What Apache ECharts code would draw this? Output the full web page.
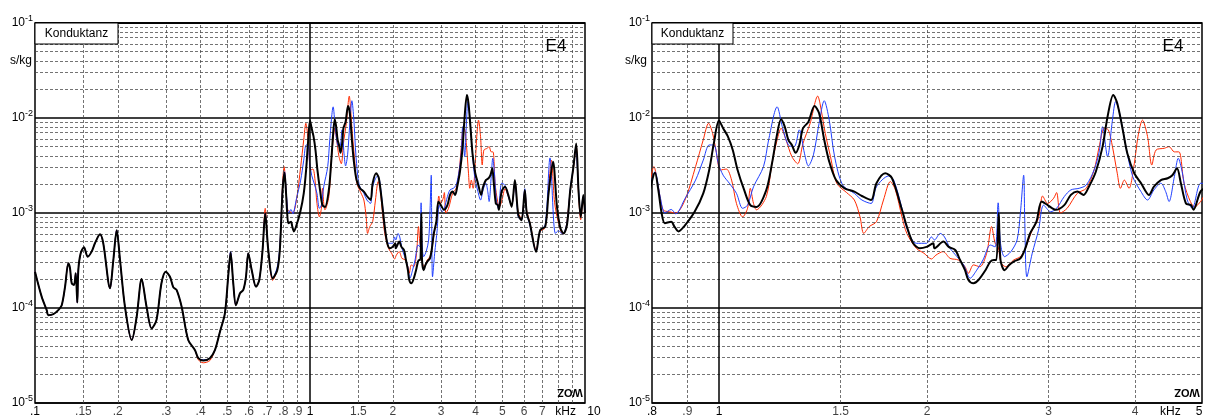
<!DOCTYPE html>
<html><head><meta charset="utf-8">
<script src="https://cdn.jsdelivr.net/npm/echarts@6/dist/echarts.min.js"></script>
<style>html,body{margin:0;padding:0;background:#fff}#c{width:1205px;height:416px}</style>
</head><body><div id="c"></div>
<script>
// ---- data (frequency in kHz, conductance in s/kg) ----
const lowFreq = [0.1,0.1058,0.1103,0.1118,0.1166,0.1215,0.1251,0.1286,0.1322,0.134,0.136,0.1386,0.1406,0.1425,0.1437,0.1466,0.1507,0.1554,0.1607,0.1652,0.1723,0.1771,0.1874,0.1927,0.1982,0.2038,0.2124,0.2248,0.2343,0.2442,0.2545,0.2655,0.2766,0.2883,0.2988,0.3096,0.3185,0.3272,0.3414,0.3607,0.3818,0.3926,0.4093,0.4325,0.451,0.4703,0.4904,0.504,0.5144,0.526,0.5377,0.5566,0.572,0.585,0.5963,0.614,0.6364,0.654,0.6723,0.6873,0.7051,0.7316,0.7602,0.7768];
const lowBlack = [2.41e-4,1.31e-4,9.5e-5,8.4e-5,8.6e-5,9.5e-5,1.07e-4,1.67e-4,2.96e-4,2.64e-4,1.82e-4,1.75e-4,2.32e-4,1.14e-4,2.5e-4,3.77e-4,4.35e-4,3.47e-4,3.92e-4,4.8e-4,5.96e-4,4.8e-4,1.61e-4,3.2e-4,6.6e-4,3.2e-4,1.03e-4,4.6e-5,8.1e-5,2.02e-4,1.03e-4,6.1e-5,7.5e-5,1.82e-4,2.41e-4,2.13e-4,1.65e-4,1.55e-4,1.03e-4,4.6e-5,3.6e-5,2.96e-5,2.8e-5,2.96e-5,3.6e-5,5.6e-5,8.8e-5,2.13e-4,3.82e-4,1.82e-4,1.07e-4,1.43e-4,1.55e-4,2.13e-4,3.77e-4,2.5e-4,1.67e-4,1.97e-4,4.08e-4,9.9e-4,4.08e-4,2.06e-4,2.5e-4,4.08e-4];
const lowRed = [2.41e-4,1.31e-4,9.5e-5,8.4e-5,8.6e-5,9.5e-5,1.07e-4,1.67e-4,2.96e-4,2.64e-4,1.82e-4,1.75e-4,2.32e-4,1.14e-4,2.5e-4,3.77e-4,4.35e-4,3.47e-4,3.92e-4,4.8e-4,5.96e-4,4.8e-4,1.61e-4,3.2e-4,6.6e-4,3.2e-4,1.03e-4,4.6e-5,8.1e-5,2.02e-4,1.03e-4,6.1e-5,7.5e-5,1.82e-4,2.41e-4,2.13e-4,1.65e-4,1.55e-4,1.03e-4,4.6e-5,3.6e-5,2.85e-5,2.65e-5,2.8e-5,3.6e-5,5.6e-5,8.8e-5,2.13e-4,3.82e-4,1.82e-4,1.07e-4,1.43e-4,1.55e-4,2.13e-4,3.77e-4,2.5e-4,1.67e-4,1.97e-4,4.08e-4,1.12e-3,4.08e-4,1.95e-4,2.5e-4,4.3e-4];
const lowBlue = [2.41e-4,1.31e-4,9.5e-5,8.4e-5,8.6e-5,9.5e-5,1.07e-4,1.67e-4,2.96e-4,2.64e-4,1.82e-4,1.75e-4,2.32e-4,1.14e-4,2.5e-4,3.77e-4,4.35e-4,3.47e-4,3.92e-4,4.8e-4,5.96e-4,4.8e-4,1.61e-4,3.2e-4,6.6e-4,3.2e-4,1.03e-4,4.6e-5,8.1e-5,2.02e-4,1.03e-4,6.1e-5,7.5e-5,1.82e-4,2.41e-4,2.13e-4,1.65e-4,1.55e-4,1.03e-4,4.6e-5,3.6e-5,2.96e-5,2.85e-5,2.96e-5,3.6e-5,5.6e-5,8.8e-5,2.13e-4,3.95e-4,1.82e-4,1.07e-4,1.43e-4,1.55e-4,2.13e-4,3.77e-4,2.5e-4,1.67e-4,1.97e-4,4.08e-4,9.9e-4,4.08e-4,2.06e-4,2.7e-4,4.5e-4];

const midBlack = [[0.795,1.75e-3],[0.808,2.65e-3],[0.817,1.75e-3],[0.826,1.0e-3],[0.835,7.8e-4],[0.853,8.1e-4],[0.862,7.2e-4],[0.874,6.4e-4],[0.89,7.2e-4],[0.922,1.03e-3],[0.949,1.61e-3],[0.968,2.84e-3],[0.983,5.4e-3],[1.0,9.4e-3],[1.014,7.8e-3],[1.03,6.4e-3],[1.047,4.6e-3],[1.064,2.84e-3],[1.0875,1.75e-3],[1.11,1.21e-3],[1.134,1.16e-3],[1.171,1.75e-3],[1.193,3.3e-3],[1.212,6.4e-3],[1.23,9.7e-3],[1.245,8.1e-3],[1.26,5.9e-3],[1.275,5.2e-3],[1.291,4.3e-3],[1.307,5.2e-3],[1.323,7.8e-3],[1.347,9.1e-3],[1.375,1.34e-2],[1.396,1.12e-2],[1.42,5.9e-3],[1.444,3.47e-3],[1.477,2.22e-3],[1.52,1.82e-3],[1.57,1.68e-3],[1.61,1.51e-3],[1.66,1.37e-3],[1.69,2.06e-3],[1.74,2.62e-3],[1.78,2.32e-3],[1.84,1.08e-3],[1.87,7.2e-4],[1.91,4.8e-4],[1.953,4.25e-4],[1.997,4.4e-4],[2.042,4.8e-4],[2.05,4.25e-4],[2.113,5.0e-4],[2.15,4.4e-4],[2.197,4.08e-4],[2.233,3.2e-4],[2.27,2.5e-4],[2.296,1.97e-4],[2.335,1.82e-4],[2.374,1.97e-4],[2.43,2.5e-4],[2.47,3.08e-4],[2.5,3.2e-4],[2.52,3.2e-4],[2.54,1.0e-3],[2.555,3.2e-4],[2.59,2.5e-4],[2.63,2.84e-4],[2.67,3.08e-4],[2.73,3.33e-4],[2.77,4.08e-4],[2.82,6.1e-4],[2.88,8.1e-4],[2.93,1.32e-3],[2.99,1.21e-3],[3.07,1.08e-3],[3.16,1.21e-3],[3.23,1.55e-3],[3.3,1.68e-3],[3.37,1.55e-3],[3.43,1.89e-3],[3.51,2.72e-3],[3.59,5.0e-3],[3.65,1.03e-2],[3.72,1.75e-2],[3.77,1.43e-2],[3.84,7.5e-3],[3.9,4.2e-3],[3.99,2.62e-3],[4.08,2.06e-3],[4.19,1.55e-3],[4.26,1.89e-3],[4.36,2.22e-3],[4.46,2.32e-3],[4.53,2.5e-3],[4.6,2.95e-3],[4.66,2.06e-3],[4.74,1.26e-3],[4.82,1.21e-3],[4.86,1.08e-3],[4.98,1.7e-3]];
const highBlack = [[5.12,1.89e-3],[5.26,1.55e-3],[5.41,1.16e-3],[5.56,2.22e-3],[5.72,9.5e-4],[5.88,8.4e-4],[6.04,1.75e-3],[6.14,1.0e-3],[6.3,7.8e-4],[6.64,3.92e-4],[6.87,6.6e-4],[7.17,7.2e-4],[7.37,1.61e-3],[7.65,3.47e-3],[7.91,1.16e-3],[8.14,6.9e-4],[8.36,6.1e-4],[8.6,7.5e-4],[8.84,1.75e-3],[9.08,3.08e-3],[9.29,5.4e-3],[9.47,1.75e-3],[9.65,9.1e-4],[9.86,1.55e-3],[10,1.0e-3]];

const midRed = [[0.795,2.06e-3],[0.805,3.08e-3],[0.817,1.89e-3],[0.83,1.08e-3],[0.848,1.03e-3],[0.866,1.0e-3],[0.893,1.37e-3],[0.925,3.08e-3],[0.949,5.9e-3],[0.966,8.8e-3],[0.979,6.9e-3],[0.99,4.6e-3],[1.005,2.84e-3],[1.025,2.9e-3],[1.043,2.22e-3],[1.06,1.26e-3],[1.082,9.1e-4],[1.1,1.12e-3],[1.11,1.82e-3],[1.122,1.26e-3],[1.133,1.08e-3],[1.171,1.49e-3],[1.193,3.3e-3],[1.214,5.9e-3],[1.23,7.8e-3],[1.25,5.9e-3],[1.275,3.92e-3],[1.3,3.3e-3],[1.323,5.4e-3],[1.355,8.8e-3],[1.39,1.7e-2],[1.4,1.43e-2],[1.425,6.9e-3],[1.45,3.92e-3],[1.48,2.06e-3],[1.53,1.64e-3],[1.57,1.37e-3],[1.6,9.1e-4],[1.62,6.1e-4],[1.65,7.2e-4],[1.69,8.1e-4],[1.73,1.37e-3],[1.77,2.14e-3],[1.8,1.75e-3],[1.84,9.1e-4],[1.87,6.1e-4],[1.93,4.25e-4],[1.98,3.77e-4],[2.03,3.28e-4],[2.06,3.6e-4],[2.11,3.92e-4],[2.16,3.33e-4],[2.22,3.2e-4],[2.27,2.72e-4],[2.296,2.32e-4],[2.335,2.84e-4],[2.385,2.72e-4],[2.44,3.77e-4],[2.48,7.2e-4],[2.51,4.8e-4],[2.535,4.4e-4],[2.56,3.0e-4],[2.6,2.72e-4],[2.67,3.2e-4],[2.73,3.47e-4],[2.77,4.08e-4],[2.84,6.6e-4],[2.9,8.8e-4],[2.94,1.51e-3],[2.99,1.26e-3],[3.05,1.43e-3],[3.08,1.64e-3],[3.12,1.0e-3],[3.19,1.12e-3],[3.3,1.61e-3],[3.4,1.82e-3],[3.49,2.84e-3],[3.55,5.0e-3],[3.61,7.8e-3],[3.66,7.5e-3],[3.71,5.0e-3],[3.77,2.62e-3],[3.81,1.82e-3],[3.86,2.22e-3],[3.92,1.82e-3],[3.99,3.3e-3],[4.04,6.4e-3],[4.1,9.5e-3],[4.17,6.4e-3],[4.23,3.2e-3],[4.29,4.6e-3],[4.41,4.8e-3],[4.48,5.0e-3],[4.56,4.4e-3],[4.63,4.4e-3],[4.71,2.06e-3],[4.81,1.32e-3],[4.88,1.16e-3],[4.98,1.33e-3]];
const highRed = [[5.12,1.8e-3],[5.26,1.5e-3],[5.41,1.2e-3],[5.56,2.1e-3],[5.72,1.0e-3],[5.88,8.8e-4],[6.04,1.7e-3],[6.14,1.05e-3],[6.3,8.0e-4],[6.64,4.1e-4],[6.87,6.4e-4],[7.17,7.0e-4],[7.37,1.8e-3],[7.55,3.6e-3],[7.75,1.3e-3],[8.0,8.0e-4],[8.3,6.0e-4],[8.5,6.5e-4],[8.84,1.7e-3],[9.08,3.0e-3],[9.29,5.0e-3],[9.47,1.6e-3],[9.65,8.5e-4],[9.86,1.4e-3],[10,1.0e-3]];

const midBlue = [[0.795,1.89e-3],[0.808,2.72e-3],[0.822,1.49e-3],[0.835,1.0e-3],[0.853,1.09e-3],[0.866,9.8e-4],[0.893,1.42e-3],[0.925,2.22e-3],[0.949,3.6e-3],[0.968,5.2e-3],[0.983,5.2e-3],[0.998,3.3e-3],[1.014,2.5e-3],[1.035,2.06e-3],[1.06,1.61e-3],[1.082,1.12e-3],[1.1,1.21e-3],[1.122,1.89e-3],[1.16,3.08e-3],[1.18,5.9e-3],[1.214,1.31e-2],[1.235,8.1e-3],[1.26,5.2e-3],[1.285,5.0e-3],[1.307,7.5e-3],[1.33,4.2e-3],[1.347,3.13e-3],[1.37,4.1e-3],[1.396,8.8e-3],[1.42,1.52e-2],[1.444,9.5e-3],[1.47,3.92e-3],[1.51,1.97e-3],[1.57,1.61e-3],[1.61,1.37e-3],[1.66,1.26e-3],[1.69,1.89e-3],[1.76,2.45e-3],[1.79,2.22e-3],[1.84,1.12e-3],[1.87,6.9e-4],[1.93,4.8e-4],[1.997,4.8e-4],[2.03,5.6e-4],[2.05,5.2e-4],[2.09,6.1e-4],[2.12,5.6e-4],[2.16,4.25e-4],[2.21,3.47e-4],[2.26,2.84e-4],[2.31,2.06e-4],[2.36,2.5e-4],[2.41,3.2e-4],[2.47,4.6e-4],[2.51,4.4e-4],[2.535,1.28e-3],[2.555,4.8e-4],[2.59,3.47e-4],[2.645,3.92e-4],[2.7,5.2e-4],[2.73,1.0e-3],[2.76,2.5e-3],[2.77,8.4e-4],[2.79,2.13e-4],[2.84,3.77e-4],[2.9,6.6e-4],[2.95,1.21e-3],[3.02,1.03e-3],[3.08,1.12e-3],[3.16,1.49e-3],[3.23,1.75e-3],[3.32,1.82e-3],[3.4,1.97e-3],[3.49,2.84e-3],[3.55,4.4e-3],[3.59,8.1e-3],[3.65,3.92e-3],[3.71,9.5e-3],[3.75,1.49e-2],[3.8,1.12e-2],[3.88,5.0e-3],[3.97,2.41e-3],[4.08,1.68e-3],[4.17,1.37e-3],[4.26,1.75e-3],[4.36,2.06e-3],[4.43,1.68e-3],[4.48,1.32e-3],[4.56,2.41e-3],[4.62,3.77e-3],[4.68,2.72e-3],[4.76,1.37e-3],[4.84,1.12e-3],[4.98,2.06e-3]];
const highBlue = [[5.12,1.95e-3],[5.26,1.5e-3],[5.41,1.2e-3],[5.56,2.1e-3],[5.72,9.0e-4],[5.88,8.5e-4],[6.04,1.8e-3],[6.14,1.0e-3],[6.3,7.5e-4],[6.64,4.0e-4],[6.87,6.5e-4],[7.17,7.5e-4],[7.46,3.8e-3],[7.8,6.1e-4],[8.0,6.5e-4],[8.3,6.0e-4],[8.6,8.0e-4],[8.84,1.8e-3],[9.08,3.1e-3],[9.25,4.8e-3],[9.47,1.8e-3],[9.65,9.5e-4],[9.86,1.5e-3],[10,1.05e-3]];

// ---- axis ticks ----
const leftTickValues = [0.1,0.15,0.2,0.3,0.4,0.5,0.6,0.7,0.8,0.9,1,1.5,2,3,4,5,6,7,8,9,10];
const leftTickLabels = ['.1','.15','.2','.3','.4','.5','.6','.7','.8','.9','1','1.5','2','3','4','5','6','7','','','10'];
const leftUnitAt = 8.5;
const rightTickValues = [0.8,0.9,1,1.5,2,3,4,5];
const rightTickLabels = ['.8','.9','1','1.5','2','3','4','5'];
const rightUnitAt = 4.5;
const yDecadeExponents = [-5,-4,-3,-2];
const yMinorMantissas = [2,3,4,5,6,7,8,9];

const FONT = 'Liberation Sans, Arial, Helvetica, sans-serif';
const pair = (f, v) => f.map((x, i) => [x, v[i]]);
const black = pair(lowFreq, lowBlack).concat(midBlack, highBlack);
const red = pair(lowFreq, lowRed).concat(midRed, highRed);
const blue = pair(lowFreq, lowBlue).concat(midBlue, highBlue);

const minorStyle = {color:'#444', width:1, type:[3,2], opacity:0.75};
const majorStyle = {color:'#000', width:1.5, type:'solid'};
const hiddenStyle = {color:'rgba(0,0,0,0)', width:0};

function vMarks(ticks, labels, min, max, unitAt, shiftLast) {
  const d = [];
  ticks.forEach((v, i) => {
    const inside = v > min * 1.0001 && v < max * 0.9999;
    const lab = labels[i];
    const item = {xAxis: v, lineStyle: v === 1 ? majorStyle : (inside ? minorStyle : hiddenStyle),
      label: {show: !!lab, formatter: lab || ' '}};
    if (i === ticks.length - 1) item.label.offset = [shiftLast, 0];
    d.push(item);
  });
  d.push({xAxis: unitAt, lineStyle: hiddenStyle, label: {show: true, formatter: 'kHz'}});
  return d;
}
function hMarks() {
  const d = [];
  // horizontal minor lines, placed on a hidden value axis holding log10 of the conductance
  yDecadeExponents.forEach(e => yMinorMantissas.forEach(m => d.push({yAxis: e + Math.log10(m)})));
  return d;
}

const yLogAxis = (gi) => ({
  type:'log', logBase:10, min:1e-5, max:1e-1, gridIndex: gi,
  axisLine:{show:false}, axisTick:{show:false},
  splitLine:{show:true, lineStyle:{color:'#000', width:1.5}},
  axisLabel:{show:true, showMinLabel:true, showMaxLabel:true, margin:2,
    formatter: v => '{b|10}{s|' + Math.round(Math.log10(v)) + '}',
    rich:{b:{fontSize:12, fontFamily:FONT, color:'#000'},
          s:{fontSize:9, fontFamily:FONT, color:'#000', padding:[0,0,9,0]}}}
});
const yExpAxis = (gi) => ({
  type:'value', min:-5, max:-1, gridIndex: gi, show:false, splitLine:{show:false}
});
const xAxisCommon = (gi, min, max) => ({
  type:'log', logBase:10, min, max, gridIndex: gi,
  axisLine:{show:false}, axisTick:{show:false}, axisLabel:{show:false}, splitLine:{show:false}
});

const vSeries = (gi, ticks, labels, min, max, unitAt, shiftLast) => ({
  type:'line', xAxisIndex: gi, yAxisIndex: gi, data: [], z: 1, silent: true,
  markLine: {silent: true, symbol: ['none','none'], animation: false,
    label: {position:'start', distance: 3, color:'#000', fontSize:12, fontFamily: FONT},
    data: vMarks(ticks, labels, min, max, unitAt, shiftLast)}
});
const hSeries = (gi) => ({
  type:'line', xAxisIndex: gi, yAxisIndex: gi + 2, data: [], z: 1, silent: true,
  markLine: {silent: true, symbol: ['none','none'], animation: false, precision: 6,
    label: {show:false}, lineStyle: minorStyle, data: hMarks()}
});
const curve = (gi, data, color, width, z) => ({
  type:'line', xAxisIndex: gi, yAxisIndex: gi, data, showSymbol:false, symbol:'none',
  smooth: 0.3, clip: true, z, lineStyle:{color, width}, itemStyle:{color}
});

const texts = (x0, boxW, e4x, sx) => [
  {type:'rect', shape:{x:x0, y:23, width:boxW, height:21}, style:{fill:'#fff', stroke:'#000', lineWidth:1}, z:100},
  {type:'text', x:x0 + boxW/2, y:34, style:{text:'Konduktanz', fill:'#000', font:'12px ' + FONT, textAlign:'center', textVerticalAlign:'middle'}, z:101},
  {type:'text', x:e4x, y:46, style:{text:'E4', fill:'#000', font:'17px ' + FONT, textAlign:'center', textVerticalAlign:'middle'}, z:101},
  {type:'text', x:sx, y:61, style:{text:'s/kg', fill:'#000', font:'12px ' + FONT, textAlign:'center', textVerticalAlign:'middle'}, z:101},
  {type:'text', x:e4x + 14, y:392, rotation: Math.PI, style:{text:'WOZ', fill:'#000', font:'bold 11px ' + FONT, textAlign:'center', textVerticalAlign:'middle'}, z:101}
];

const chart = echarts.init(document.getElementById('c'), null, {renderer:'canvas'});
chart.setOption({
  animation:false,
  backgroundColor:'#fff',
  grid:[
    {left:35, top:23, width:550, height:380, show:true, borderColor:'#000', borderWidth:1.5, backgroundColor:'#fff'},
    {left:652, top:23, width:550, height:380, show:true, borderColor:'#000', borderWidth:1.5, backgroundColor:'#fff'}
  ],
  xAxis:[xAxisCommon(0, 0.1, 10), xAxisCommon(1, 0.8, 5)],
  yAxis:[yLogAxis(0), yLogAxis(1), yExpAxis(0), yExpAxis(1)],
  series:[
    hSeries(0), hSeries(1),
    vSeries(0, leftTickValues, leftTickLabels, 0.1, 10, leftUnitAt, 9),
    vSeries(1, rightTickValues, rightTickLabels, 0.8, 5, rightUnitAt, -3),
    curve(0, red, '#ff2a00', 1, 3), curve(0, blue, '#1f3fff', 1, 4), curve(0, black, '#000', 2, 5),
    curve(1, red, '#ff2a00', 1, 3), curve(1, blue, '#1f3fff', 1, 4), curve(1, black, '#000', 2, 5)
  ],
  graphic: texts(35, 83, 556, 21).concat(texts(652, 81, 1173, 636))
});
</script></body></html>
